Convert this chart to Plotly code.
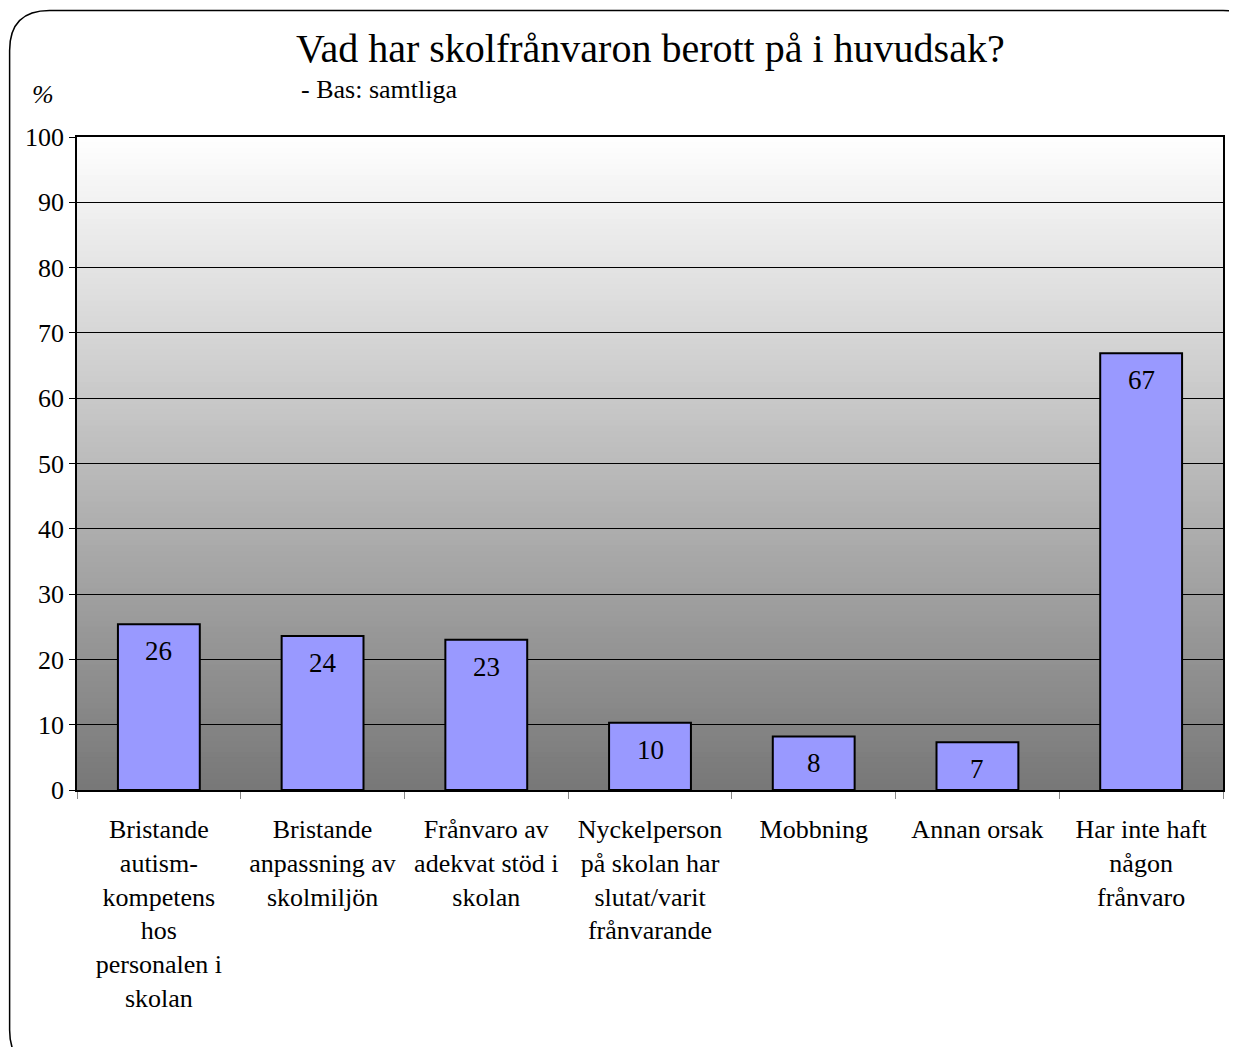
import plotly.graph_objects as go

categories = [
    "Bristande<br>autism-<br>kompetens<br>hos<br>personalen i<br>skolan",
    "Bristande<br>anpassning av<br>skolmiljön",
    "Frånvaro av<br>adekvat stöd i<br>skolan",
    "Nyckelperson<br>på skolan har<br>slutat/varit<br>frånvarande",
    "Mobbning",
    "Annan orsak",
    "Har inte haft<br>någon<br>frånvaro",
]
values = [25.4, 23.6, 23.0, 10.3, 8.2, 7.3, 66.9]
value_labels = ["26", "24", "23", "10", "8", "7", "67"]
y_ticks = [0, 10, 20, 30, 40, 50, 60, 70, 80, 90, 100]

OFF = 8  # page body margin
PAGE_W, PAGE_H = 1237, 1047
W, H = PAGE_W - OFF, PAGE_H - OFF
PL, PR, PT, PB = 77, 1225, 137, 790  # plot area in page pixels
L, T = PL - OFF, PT - OFF
R, B = PAGE_W - PR, PAGE_H - PB
PW, PH = PR - PL, PB - PT

def px_x(px):
    return (px - PL) / PW

def px_y(py):
    return (PB - py) / PH

FONT = "Liberation Serif"

fig = go.Figure()
fig.add_trace(go.Bar(
    x=categories, y=values,
    marker=dict(color="#9999FF", line=dict(color="black", width=2)),
    width=0.5,
))

# gradient background (white at top -> gray at bottom)
shapes = []
n = 120
for i in range(n):
    f0 = i / n
    f1 = (i + 1) / n
    t = (f0 + f1) / 2
    c = int(round(0x77 + (0xFF - 0x77) * t))
    shapes.append(dict(type="rect", xref="paper", yref="paper",
                       x0=0, x1=1, y0=f0, y1=min(1, f1 + 0.002),
                       fillcolor=f"rgb({c},{c},{c})", line=dict(width=0),
                       layer="below"))

# rounded outer border
x0, x1 = px_x(9.5), px_x(1265)
y0, y1 = px_y(1070), px_y(10.5)
rx = 40 / PW
ry = 40 / PH
path = (f"M {x0+rx},{y1} L {x1-rx},{y1} Q {x1},{y1} {x1},{y1-ry} "
        f"L {x1},{y0+ry} Q {x1},{y0} {x1-rx},{y0} L {x0+rx},{y0} "
        f"Q {x0},{y0} {x0},{y0+ry} L {x0},{y1-ry} Q {x0},{y1} {x0+rx},{y1} Z")
shapes.append(dict(type="path", xref="paper", yref="paper", path=path,
                   line=dict(color="black", width=1.5), layer="above"))

annotations = [
    dict(text="Vad har skolfrånvaron berott på i huvudsak?", xref="paper", yref="paper",
         x=px_x(651), y=px_y(48), xanchor="center", yanchor="middle", showarrow=False,
         font=dict(family=FONT, size=40, color="black")),
    dict(text="- Bas: samtliga", xref="paper", yref="paper",
         x=px_x(299), y=px_y(90), xanchor="left", yanchor="middle", showarrow=False,
         font=dict(family=FONT, size=26, color="black")),
    dict(text="<i>%</i>", xref="paper", yref="paper",
         x=px_x(43), y=px_y(95), xanchor="center", yanchor="middle", showarrow=False,
         font=dict(family=FONT, size=26, color="black")),
]
for cat, v, lab in zip(categories, values, value_labels):
    annotations.append(dict(text=lab, x=cat, y=v, xref="x", yref="y",
                            yanchor="middle", yshift=-27, showarrow=False,
                            font=dict(family=FONT, size=27, color="black")))

fig.update_layout(
    width=W, height=H,
    margin=dict(l=L, r=R, t=T, b=B),
    paper_bgcolor="white", plot_bgcolor="rgba(0,0,0,0)",
    showlegend=False,
    shapes=shapes, annotations=annotations,
    font=dict(family=FONT, color="black"),
)
fig.update_yaxes(range=[0, 100], tickvals=y_ticks, showgrid=True, gridcolor="black", gridwidth=1,
                 showline=True, linecolor="black", linewidth=1.5, mirror=True,
                 ticks="outside", ticklen=6, tickcolor="black",
                 tickfont=dict(family=FONT, size=26, color="black"), zeroline=False, fixedrange=True)
fig.update_xaxes(showline=True, linecolor="black", linewidth=1.5, mirror=True,
                 ticks="outside", tickson="boundaries", ticklen=7, tickcolor="#888888",
                 tickfont=dict(family=FONT, size=26, color="black"), tickangle=0,
                 ticklabelstandoff=15,
                 showgrid=False, fixedrange=True)

fig.write_html("out.html")
